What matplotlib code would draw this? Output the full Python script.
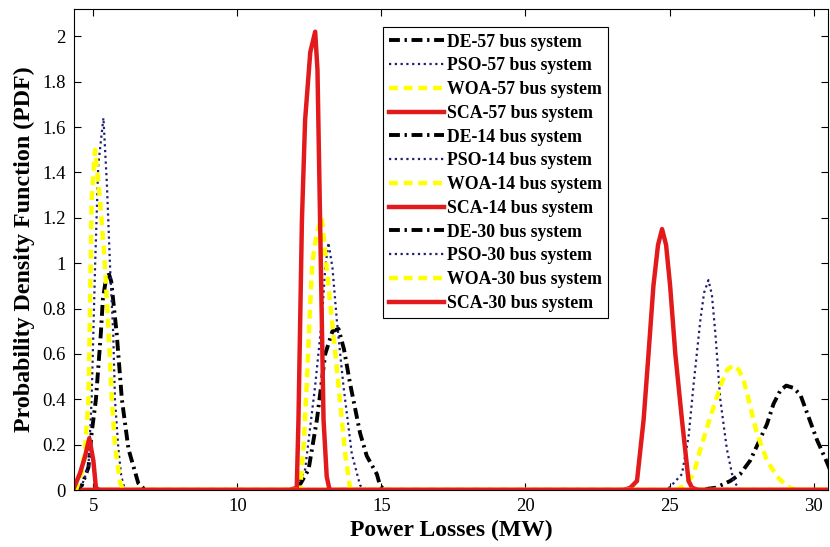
import matplotlib
matplotlib.use("Agg")
import matplotlib.pyplot as plt

plt.rcParams['font.family'] = ['Liberation Serif', 'DejaVu Serif']

XMIN, XMAX = 4.33, 30.5

# ---- 57 bus system (cluster near 24-30 MW) ----
de57_x = [4.33, 26.0, 26.6, 27.11, 27.45, 27.80, 28.09, 28.38, 28.61, 28.85, 29.05, 29.3, 29.54, 29.83, 30.12, 30.47, 30.6]
de57_y = [0, 0, 0.01, 0.04, 0.07, 0.13, 0.21, 0.29, 0.38, 0.44, 0.46, 0.45, 0.42, 0.32, 0.22, 0.12, 0.08]

pso57_x = [4.33, 24.9, 25.14, 25.43, 25.66, 25.83, 26.07, 26.2, 26.35, 26.47, 26.59, 26.76, 26.99, 27.22, 27.45, 30.6]
pso57_y = [0, 0, 0.03, 0.07, 0.235, 0.46, 0.75, 0.87, 0.925, 0.86, 0.69, 0.40, 0.18, 0.04, 0.0, 0]

woa57_x = [4.33, 25.2, 25.55, 25.83, 26.07, 26.41, 26.8, 27.0, 27.22, 27.4, 27.57, 27.80, 28.03, 28.38, 28.73, 29.08, 29.4, 30.6]
woa57_y = [0, 0, 0.02, 0.07, 0.18, 0.32, 0.47, 0.53, 0.55, 0.53, 0.485, 0.37, 0.25, 0.13, 0.06, 0.015, 0, 0]

sca57_x = [4.33, 23.4, 23.64, 23.87, 24.10, 24.27, 24.44, 24.6, 24.74, 24.88, 25.02, 25.20, 25.43, 25.66, 25.78, 26.0, 30.6]
sca57_y = [0, 0, 0.01, 0.04, 0.31, 0.60, 0.90, 1.08, 1.15, 1.08, 0.90, 0.60, 0.31, 0.04, 0.01, 0, 0]

# ---- 14 bus system (cluster near 12-15 MW) ----
de14_x = [4.33, 12.0, 12.2, 12.47, 12.76, 13.05, 13.3, 13.51, 13.7, 13.91, 14.26, 14.49, 14.84, 14.95, 15.1, 30.6]
de14_y = [0, 0, 0.03, 0.09, 0.31, 0.60, 0.70, 0.71, 0.62, 0.47, 0.25, 0.15, 0.07, 0.02, 0, 0]

pso14_x = [4.33, 12.0, 12.35, 12.70, 12.93, 13.05, 13.16, 13.3, 13.45, 13.68, 13.97, 14.26, 14.5, 30.6]
pso14_y = [0, 0, 0.09, 0.46, 0.75, 0.98, 1.09, 0.98, 0.75, 0.46, 0.16, 0.02, 0, 0]

woa14_x = [4.33, 12.0, 12.18, 12.30, 12.42, 12.52, 12.6, 12.75, 12.93, 13.05, 13.28, 13.51, 13.74, 13.91, 14.1, 30.6]
woa14_y = [0, 0, 0.01, 0.2, 0.5, 0.8, 1.0, 1.13, 1.2, 1.04, 0.75, 0.46, 0.16, 0.01, 0, 0]

sca14_x = [4.33, 11.8, 12.06, 12.12, 12.18, 12.24, 12.35, 12.53, 12.70, 12.78, 12.81, 12.87, 12.93, 12.99, 13.1, 13.2, 30.6]
sca14_y = [0, 0, 0.01, 0.31, 0.75, 1.19, 1.63, 1.93, 2.02, 1.85, 1.63, 1.19, 0.75, 0.31, 0.06, 0, 0]

# ---- 30 bus system (cluster near 4.5-6.5 MW) ----
de30_x = [4.33, 4.6, 4.83, 4.94, 5.09, 5.26, 5.33, 5.45, 5.52, 5.62, 5.81, 5.99, 6.22, 6.56, 6.8, 30.6]
de30_y = [0, 0.02, 0.10, 0.25, 0.40, 0.69, 0.84, 0.94, 0.96, 0.92, 0.69, 0.40, 0.18, 0.03, 0, 0]

pso30_x = [4.33, 4.6, 4.83, 4.94, 5.0, 5.06, 5.17, 5.35, 5.47, 5.58, 5.69, 5.75, 5.87, 5.97, 6.1, 30.6]
pso30_y = [0, 0.02, 0.10, 0.40, 0.69, 0.985, 1.43, 1.64, 1.35, 0.985, 0.69, 0.40, 0.18, 0.06, 0, 0]

woa30_x = [4.33, 4.4, 4.6, 4.71, 4.83, 4.89, 4.94, 5.06, 5.23, 5.37, 5.47, 5.56, 5.64, 5.75, 5.93, 6.05, 30.6]
woa30_y = [0, 0.0, 0.08, 0.18, 0.40, 0.84, 1.28, 1.50, 1.28, 1.05, 0.84, 0.62, 0.40, 0.2, 0.03, 0, 0]

sca30_x = [4.33, 4.54, 4.71, 4.86, 5.0, 5.09, 5.2, 30.6]
sca30_y = [0.01, 0.075, 0.147, 0.228, 0.13, 0.01, 0, 0]

labels = ['DE-57 bus system', 'PSO-57 bus system', 'WOA-57 bus system', 'SCA-57 bus system',
          'DE-14 bus system', 'PSO-14 bus system', 'WOA-14 bus system', 'SCA-14 bus system',
          'DE-30 bus system', 'PSO-30 bus system', 'WOA-30 bus system', 'SCA-30 bus system']

xticks = [5, 10, 15, 20, 25, 30]
yticks = [0, 0.2, 0.4, 0.6, 0.8, 1, 1.2, 1.4, 1.6, 1.8, 2]
yticklabels = ['0', '0.2', '0.4', '0.6', '0.8', '1', '1.2', '1.4', '1.6', '1.8', '2']

series = [(de57_x, de57_y), (pso57_x, pso57_y), (woa57_x, woa57_y), (sca57_x, sca57_y),
          (de14_x, de14_y), (pso14_x, pso14_y), (woa14_x, woa14_y), (sca14_x, sca14_y),
          (de30_x, de30_y), (pso30_x, pso30_y), (woa30_x, woa30_y), (sca30_x, sca30_y)]

styles = [
    dict(color='black', lw=2.8, ls=(0, (2.8, 1.2, 0.6, 1.2))),
    dict(color='#1f1f70', lw=1.6, ls=(0, (1, 1.6))),
    dict(color='#ffff00', lw=3.2, ls=(0, (2.0, 1.3))),
    dict(color='#e31a1c', lw=3.2, ls='-'),
]

fig = plt.figure(figsize=(8.3, 5.47), dpi=100)
ax = fig.add_axes([0.0892, 0.1042, 0.9084, 0.8793])

for i, ((xs, ys), lab) in enumerate(zip(series, labels)):
    st = styles[i % 4]
    ax.plot(xs, ys, color=st['color'], lw=st['lw'], linestyle=st['ls'], label=lab)

ax.set_xlim(XMIN, XMAX)
ax.set_ylim(0, 2.12)
ax.set_xticks(xticks)
ax.set_yticks(yticks)
ax.set_yticklabels(yticklabels)
ax.tick_params(direction='in', top=True, right=True, length=5, width=0.8, labelsize=13.5, pad=6)
for sp in ax.spines.values():
    sp.set_linewidth(0.8)

ax.set_xlabel('Power Losses (MW)', fontsize=17, fontweight='bold', labelpad=3)
ax.set_ylabel('Probability Density Function (PDF)', fontsize=17.3, fontweight='bold', labelpad=5)

leg = ax.legend(loc='upper left', bbox_to_anchor=(0.41, 0.962), fancybox=False, frameon=True,
                edgecolor='black', framealpha=1, prop={'family': 'Liberation Serif', 'weight': 'bold', 'size': 12.8},
                handlelength=3.1, handletextpad=0.15, labelspacing=0.38, borderpad=0.35, borderaxespad=0)
leg.get_frame().set_linewidth(0.8)

fig.savefig('out.png', dpi=100)
